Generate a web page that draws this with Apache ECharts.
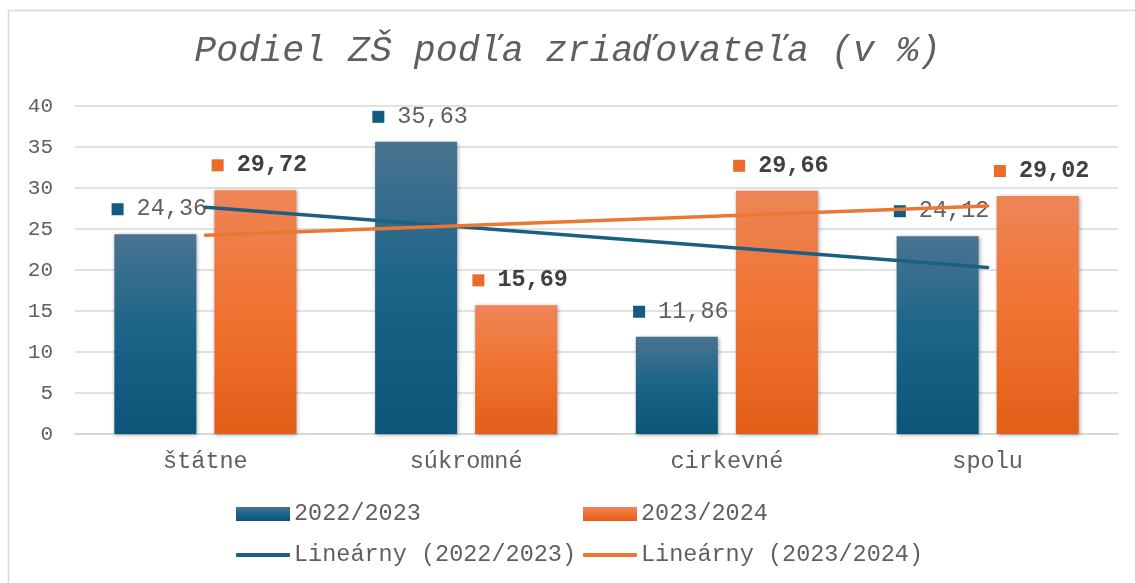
<!DOCTYPE html>
<html>
<head>
<meta charset="utf-8">
<script src="https://cdn.jsdelivr.net/npm/echarts@6/dist/echarts.min.js"></script>
<style>
html,body{margin:0;padding:0;background:#fff;}
#chart{width:1135px;height:583px;}
</style>
</head>
<body>
<div id="chart"></div>
<script>
// ---- data ----
var categories = ['štátne', 'súkromné', 'cirkevné', 'spolu'];
var seriesNames = ['2022/2023', '2023/2024'];
var values2022 = [24.36, 35.63, 11.86, 24.12];
var values2023 = [29.72, 15.69, 29.66, 29.02];
var trendNames = ['Lineárny (2022/2023)', 'Lineárny (2023/2024)'];
var yTicks = { min: 0, max: 40, interval: 5 };
var titleText = 'Podiel ZŠ podľa zriaďovateľa (v %)';

// Excel-style linear trendline (least squares over x = 1..n)
function linearTrend(vals) {
  var n = vals.length, sx = 0, sy = 0, sxy = 0, sxx = 0;
  for (var i = 0; i < n; i++) {
    var x = i + 1; sx += x; sy += vals[i]; sxy += x * vals[i]; sxx += x * x;
  }
  var b = (n * sxy - sx * sy) / (n * sxx - sx * sx);
  var a = (sy - b * sx) / n;
  return vals.map(function (v, i) { return +(a + b * (i + 1)).toFixed(4); });
}

var FONT = "'Courier New', 'Liberation Mono', monospace";
var TXT = '#5f5f5f';
var BLUE_LINE = '#1b5f85';
var ORANGE_LINE = '#ed7632';

var blueGrad = new echarts.graphic.LinearGradient(0, 0, 0, 1, [
  { offset: 0, color: '#4a7391' },
  { offset: 0.5, color: '#1a6488' },
  { offset: 1, color: '#0b5579' }
]);
var orangeGrad = new echarts.graphic.LinearGradient(0, 0, 0, 1, [
  { offset: 0, color: '#ee8557' },
  { offset: 0.5, color: '#f07230' },
  { offset: 1, color: '#e25e19' }
]);

function fmt(v) { return v.toFixed(2).replace('.', ','); }

function barLabel(markerColor, bold, color) {
  return {
    show: true,
    position: 'top',
    distance: 12,
    offset: [4, 0],
    formatter: function (p) { return '{m|}{v|' + fmt(p.value) + '}'; },
    rich: {
      m: { width: 12, height: 12, backgroundColor: markerColor, verticalAlign: 'middle' },
      v: {
        fontFamily: FONT, fontSize: 23.5, lineHeight: 26,
        fontWeight: bold ? 'bold' : 'normal', color: color,
        padding: [0, 0, 0, 13], verticalAlign: 'middle'
      }
    }
  };
}

var shadow = { shadowBlur: 4, shadowColor: 'rgba(0,0,0,0.35)', shadowOffsetX: 1, shadowOffsetY: 1 };

var chart = echarts.init(document.getElementById('chart'), null, { renderer: 'canvas' });

function legendItem(name, left, top, iconH, icon) {
  return {
    data: [name], left: left, top: top, padding: 0, orient: 'horizontal',
    itemWidth: 54, itemHeight: iconH, icon: icon, itemGap: 0,
    selectedMode: false,
    textStyle: { fontFamily: FONT, fontSize: 23.5, color: TXT, lineHeight: 26, padding: [0, 0, 0, -1] }
  };
}

chart.setOption({
  backgroundColor: '#fff',
  animation: false,
  graphic: [{
    type: 'rect', silent: true, z: -10,
    shape: { x: 8.5, y: 10.5, width: 1300, height: 900 },
    style: { fill: 'none', stroke: '#d9d9d9', lineWidth: 1.5 }
  }],
  title: {
    text: titleText, left: 'center', top: 28,
    textStyle: { fontFamily: FONT, fontSize: 36.6, fontStyle: 'italic', fontWeight: 'normal', color: TXT }
  },
  legend: [
    legendItem(seriesNames[0], 236, 501, 14, 'rect'),
    legendItem(seriesNames[1], 583, 501, 14, 'rect'),
    legendItem(trendNames[0], 236, 542, 4, 'roundRect'),
    legendItem(trendNames[1], 583, 542, 4, 'roundRect')
  ],
  grid: { left: 75, right: 17, top: 106, bottom: 149, containLabel: false },
  xAxis: {
    type: 'category', data: categories,
    axisTick: { show: false },
    axisLine: { lineStyle: { color: '#d9d9d9', width: 2 } },
    axisLabel: { fontFamily: FONT, fontSize: 23.5, color: TXT, margin: 16 }
  },
  yAxis: {
    type: 'value', min: yTicks.min, max: yTicks.max, interval: yTicks.interval,
    axisLine: { show: false }, axisTick: { show: false },
    splitLine: { lineStyle: { color: '#d9d9d9', width: 1.5 } },
    axisLabel: { fontFamily: FONT, fontSize: 21, color: TXT, margin: 22 }
  },
  series: [
    {
      name: seriesNames[0], type: 'bar', data: values2022,
      barWidth: 82, barGap: '22%', z: 2,
      itemStyle: Object.assign({ color: blueGrad }, shadow),
      label: barLabel('#125c82', false, TXT)
    },
    {
      name: seriesNames[1], type: 'bar', data: values2023,
      barWidth: 82, z: 2,
      itemStyle: Object.assign({ color: orangeGrad }, shadow),
      label: barLabel('#ec6a2a', true, '#404040')
    },
    {
      name: trendNames[0], type: 'line', data: linearTrend(values2022),
      showSymbol: false, symbol: 'none', z: 5,
      itemStyle: { color: BLUE_LINE },
      lineStyle: { color: BLUE_LINE, width: 3.5, cap: 'round' }
    },
    {
      name: trendNames[1], type: 'line', data: linearTrend(values2023),
      showSymbol: false, symbol: 'none', z: 5,
      itemStyle: { color: ORANGE_LINE },
      lineStyle: { color: ORANGE_LINE, width: 3.5, cap: 'round' }
    }
  ]
});
</script>
</body>
</html>
